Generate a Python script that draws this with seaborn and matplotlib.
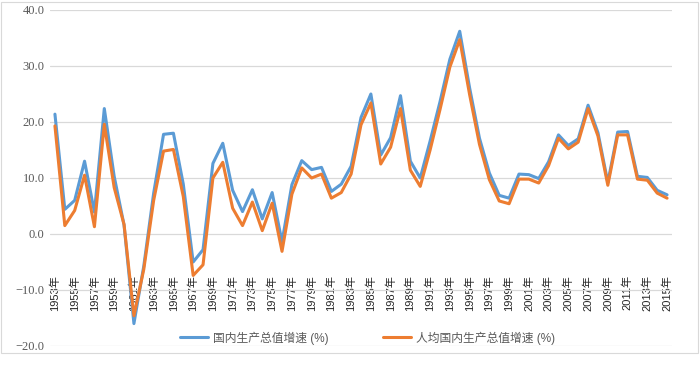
"""
China GDP growth vs per-capita GDP growth, 1953-2015.
"""

import matplotlib.pyplot as plt
import matplotlib.patches as mpatches
import pandas as pd
import seaborn as sns

# Values (%).
years = list(range(1953, 2016))
gdp_growth = [21.4, 4.4, 6.0, 13.0, 3.9, 22.4, 10.3, 1.6, -16.0, -5.7,
              7.3, 17.8, 18.0, 8.9, -5.0, -2.8, 12.6, 16.2, 7.8, 4.0,
              7.9, 2.7, 7.4, -1.4, 8.8, 13.1, 11.5, 11.9, 7.6, 8.9,
              12.1, 20.8, 25.0, 14.1, 17.2, 24.7, 13.0, 10.0, 16.6, 23.6,
              31.2, 36.2, 26.1, 17.1, 10.9, 6.9, 6.4, 10.7, 10.6, 9.9,
              12.9, 17.7, 15.8, 17.0, 23.0, 18.1, 9.2, 18.2, 18.3, 10.3,
              10.1, 7.8, 7.0]
gdp_pc_growth = [19.3, 1.5, 4.2, 10.5, 1.3, 19.6, 8.3, 1.7, -14.6, -6.3,
                 6.0, 14.8, 15.1, 6.7, -7.4, -5.5, 10.0, 12.8, 4.6, 1.5,
                 5.7, 0.6, 5.5, -3.1, 7.1, 11.8, 10.0, 10.7, 6.4, 7.4,
                 10.7, 19.5, 23.4, 12.5, 15.5, 22.4, 11.4, 8.5, 15.0, 22.2,
                 29.8, 34.7, 24.9, 16.0, 9.7, 5.9, 5.4, 9.8, 9.8, 9.1,
                 12.2, 17.1, 15.2, 16.4, 22.4, 17.5, 8.7, 17.7, 17.7, 9.8,
                 9.6, 7.3, 6.4]
series_names = ["国内生产总值增速 (%)", "人均国内生产总值增速 (%)"]
tick_years = years[::2]
tick_labels = [f"{y}年" for y in tick_years]
y_ticks = [-20, -10, 0, 10, 20, 30, 40]
y_tick_labels = ["−20.0", "−10.0", "0.0", "10.0", "20.0", "30.0", "40.0"]

df = pd.DataFrame({"year": years, "gdp": gdp_growth, "pc": gdp_pc_growth})

sns.set_style("white")
plt.rcParams['font.family'] = ['Liberation Sans', 'Noto Sans CJK SC', 'DejaVu Sans']

fig = plt.figure(figsize=(7, 3.65), dpi=100)
ax = fig.add_axes([50 / 700, 1 - 346 / 365, 622 / 700, 336 / 365])

sns.lineplot(data=df, x="year", y="gdp", color="#5B9BD5", linewidth=2.2,
             label=series_names[0], ax=ax)
sns.lineplot(data=df, x="year", y="pc", color="#ED7D31", linewidth=2.2,
             label=series_names[1], ax=ax)

ax.set_xlim(1952.5, 2015.5)
ax.set_ylim(-20, 40)
ax.set_xlabel("")
ax.set_ylabel("")

# horizontal gridlines only, no spines
ax.yaxis.grid(True, color="#d9d9d9", linewidth=0.9)
ax.xaxis.grid(False)
ax.set_axisbelow(True)
for s in ax.spines.values():
    s.set_visible(False)

ax.set_yticks(y_ticks)
ax.set_yticklabels(y_tick_labels, fontsize=9, color="#595959")
for lbl in ax.get_yticklabels():
    lbl.set_fontfamily(['Liberation Serif', 'DejaVu Serif'])
ax.tick_params(axis='y', length=0, pad=4)

# category labels sit inside the plot, below the zero line
ax.spines['bottom'].set_position(('data', -7.3))
ax.set_xticks(tick_years)
ax.set_xticklabels(tick_labels, rotation=90, fontsize=8, color="#262626")
ax.tick_params(axis='x', length=0, pad=0)

ax.legend(loc='center', bbox_to_anchor=(0.51, 0.024), ncol=2, frameon=False,
          fontsize=8.5, handlelength=2.4, columnspacing=4.6, handletextpad=0.4,
          labelcolor="#595959")

fig.patches.append(mpatches.Rectangle((1 / 700, 1 - 353 / 365), 697 / 700, 351 / 365,
                                      transform=fig.transFigure, fill=False,
                                      edgecolor="#d9d9d9", linewidth=0.8))

plt.savefig("out.png", dpi=100)
